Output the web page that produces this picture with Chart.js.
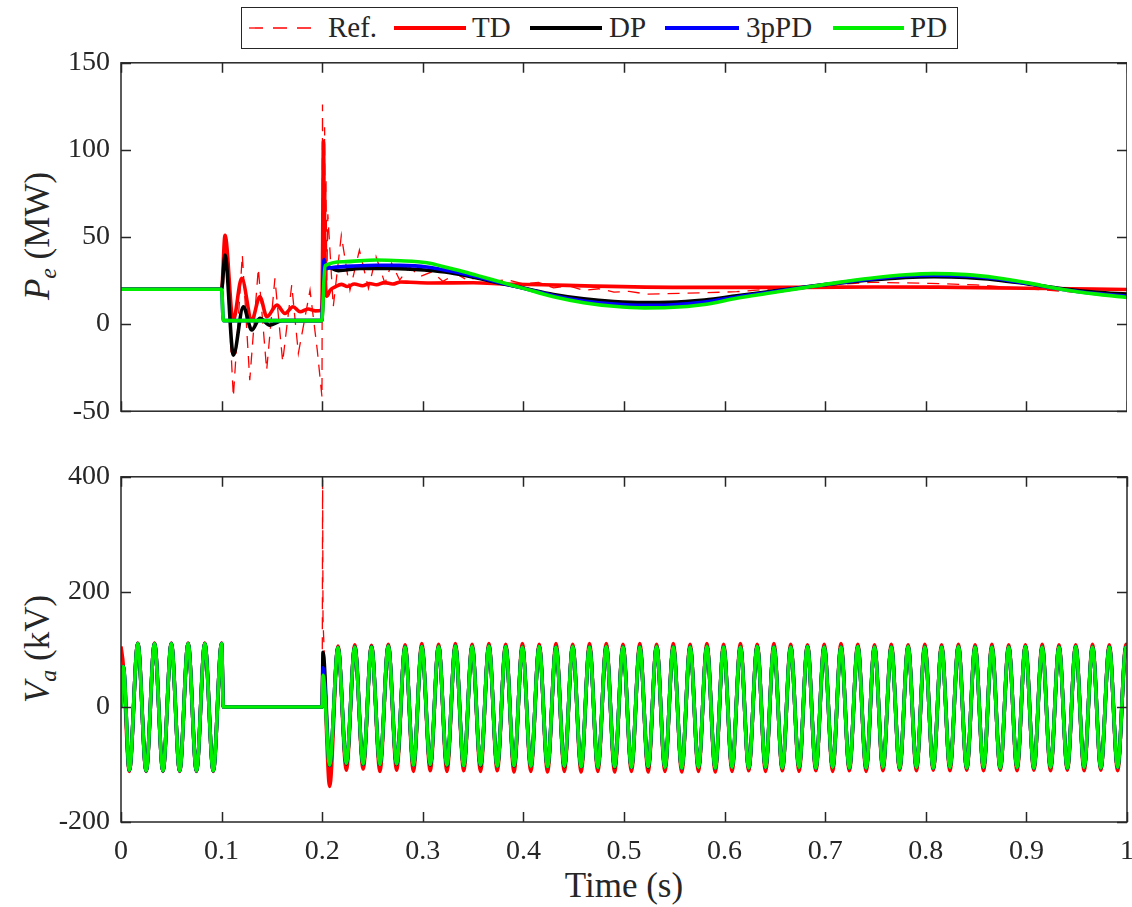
<!DOCTYPE html>
<html>
<head>
<meta charset="utf-8">
<script src="https://cdn.jsdelivr.net/npm/chart.js@4.4.0/dist/chart.umd.min.js"></script>
<style>
body { margin: 0; background: #fff; width: 1132px; height: 907px; position: relative; overflow: hidden;
       font-family: 'Liberation Serif', serif; color: #262626; }
canvas { position: absolute; left: 0; top: 0; }
.lab { position: absolute; white-space: nowrap; font-size: 35px; transform: translate(-50%, -50%); }
.ylab { transform: translate(-50%, -50%) rotate(-90deg); }
.lab sub { font-size: 0.68em; vertical-align: -0.3em; }
#legend { position: absolute; left: 241px; top: 7px; width: 717px; height: 42px; border: 1.5px solid #262626; box-sizing: border-box; }
.lt { position: absolute; top: 28px; transform: translateY(-52%); font-size: 29px; white-space: nowrap; }
#legsvg { position: absolute; left: 0; top: 0; }
</style>
</head>
<body>
<div id="legend"></div>
<svg id="legsvg" width="1132" height="55">
  <line x1="249" y1="28" x2="321" y2="28" stroke="#ff0000" stroke-width="1.3" stroke-dasharray="14 10"/>
  <line x1="394" y1="28" x2="466" y2="28" stroke="#ff0000" stroke-width="4"/>
  <line x1="530" y1="28" x2="602" y2="28" stroke="#000000" stroke-width="4"/>
  <line x1="665" y1="28" x2="739" y2="28" stroke="#0000ff" stroke-width="4"/>
  <line x1="833" y1="28" x2="904" y2="28" stroke="#00ee00" stroke-width="4"/>
</svg>
<div class="lt" style="left:328px">Ref.</div>
<div class="lt" style="left:472px">TD</div>
<div class="lt" style="left:609px">DP</div>
<div class="lt" style="left:746px">3pPD</div>
<div class="lt" style="left:910px">PD</div>

<div class="lab ylab" style="left:40px; top:236px"><i>P</i><sub><i>e</i></sub>&nbsp;(MW)</div>
<div class="lab ylab" style="left:40px; top:649px"><i>V</i><sub><i>a</i></sub>&nbsp;(kV)</div>
<div class="lab" style="left:624px; top:886px">Time (s)</div>

<script>
// tick labels
const xTickLabels = ['0', '0.1', '0.2', '0.3', '0.4', '0.5', '0.6', '0.7', '0.8', '0.9', '1'];
const peTicks = ['-50', '0', '50', '100', '150'];
const vaTicks = ['-200', '0', '200', '400'];

// ---- top panel: Pe (MW) ----
const refT = [0, 0.1, 0.1034, 0.1117, 0.1206, 0.128, 0.1365, 0.1448, 0.153, 0.1607,
  0.1697, 0.1763, 0.1879, 0.1951, 0.1998, 0.2003, 0.2008, 0.2013, 0.2018, 0.2024,
  0.203, 0.2038, 0.2046, 0.2056, 0.211, 0.219, 0.2276, 0.237, 0.246, 0.2535,
  0.2624, 0.269, 0.277, 0.287, 0.297, 0.309, 0.32, 0.333, 0.345, 0.357,
  0.37, 0.384, 0.4, 0.415, 0.43, 0.445, 0.46, 0.475, 0.49, 0.505,
  0.523, 0.556, 0.612, 0.678, 0.745, 0.804, 0.85, 0.895, 0.957, 1.0];
const refP = [20, 20, 51, -41.8, 39.7, -32.2, 32, -26.4, 26.3, -21.7,
  22.4, -16.8, 19.5, -14.9, -42, 126, 20, 100, 45, 113,
  35, 82, 25, 63, 10, 51, 19.5, 42.5, 20.5, 38.7,
  23.4, 34.9, 25.3, 32.9, 27.2, 30, 24.5, 29, 25, 27.5,
  24.5, 25.5, 23, 24, 20.8, 22, 19.3, 20.3, 18.4, 18.8,
  17.2, 17.6, 18.6, 21.5, 24, 23.4, 22.5, 20.5, 18, 17.5];

const tdT = [0, 0.1, 0.1034, 0.1115, 0.12, 0.13, 0.138, 0.145, 0.155, 0.163,
  0.171, 0.178, 0.186, 0.193, 0.1995, 0.2003, 0.2012, 0.2022, 0.2032, 0.2045,
  0.208, 0.213, 0.219, 0.225, 0.232, 0.24, 0.247, 0.254, 0.262, 0.27,
  0.278, 0.287, 0.307, 0.35, 0.383, 0.42, 0.47, 0.556, 0.62, 0.678,
  0.75, 0.812, 0.9, 1.0];
const tdP = [20, 20, 51, 2, 26.3, 2.3, 15.7, 4.2, 10.9, 6.1,
  10, 7.1, 8.7, 7.6, 8, 35, 105, 55, 25, 16,
  19.5, 21.4, 22.8, 21.6, 23, 22, 23.3, 22.6, 23.8, 23,
  24.2, 24, 23.6, 23.7, 23, 22.6, 21.8, 21.1, 21.1, 21.1,
  21.3, 21.2, 20.6, 19.9];

const dpT = [0, 0.1, 0.1034, 0.1117, 0.1216, 0.13, 0.138, 0.148, 0.16, 0.1995,
  0.2025, 0.216, 0.2376, 0.27, 0.304, 0.327, 0.347, 0.3767, 0.4, 0.43,
  0.46, 0.49, 0.52, 0.545, 0.58, 0.612, 0.645, 0.678, 0.712, 0.745,
  0.78, 0.808, 0.84, 0.87, 0.9, 0.936, 0.97, 1.0];
const dpP = [20, 20, 39.7, -17.8, 10, -3.4, 3.3, -0.6, 2, 2,
  33.5, 30.7, 32, 32, 30.9, 29.5, 27.4, 23.5, 20.7, 17,
  14.5, 13, 12.4, 12.5, 13.8, 16.2, 18.7, 21.2, 23.4, 25.3,
  26.8, 27.2, 26.8, 25.4, 23.2, 20.3, 18.3, 17.2];

const ppT = [0, 0.1, 0.1017, 0.1995, 0.2018, 0.2035, 0.21, 0.23, 0.254, 0.2773,
  0.304, 0.327, 0.347, 0.3767, 0.4, 0.43, 0.46, 0.49, 0.52, 0.545,
  0.58, 0.612, 0.645, 0.678, 0.712, 0.745, 0.78, 0.808, 0.84, 0.87,
  0.9, 0.936, 0.97, 1.0];
const ppP = [20, 20, 2, 2, 37, 32, 32.5, 33.3, 33.8, 33.7,
  32.8, 30.5, 28, 23.8, 20.6, 16.3, 13.3, 11.5, 10.8, 11,
  12.6, 15.6, 18.3, 21, 23.6, 25.8, 27.6, 28.1, 27.6, 26,
  23.4, 19.9, 17.5, 16];

const pdT = [0, 0.1, 0.1017, 0.1995, 0.2028, 0.221, 0.254, 0.2773, 0.304, 0.327,
  0.347, 0.3767, 0.4, 0.43, 0.46, 0.49, 0.52, 0.545, 0.58, 0.612,
  0.645, 0.678, 0.712, 0.745, 0.78, 0.808, 0.84, 0.87, 0.9, 0.936,
  0.97, 1.0];
const pdP = [20, 20, 2, 2, 33.5, 35.8, 36.8, 36.4, 35.2, 32,
  29.1, 24.3, 20.5, 15.7, 12.3, 10.2, 9.3, 9.5, 11.3, 14.8,
  17.8, 20.8, 23.8, 26.3, 28.3, 29, 28.4, 26.6, 23.8, 19.9,
  17.2, 15.3];

// ---- bottom panel: Va (kV), read at each crest / trough ----
const vaT = [0, 0.0023, 0.0083, 0.0167, 0.025, 0.0333, 0.0417, 0.05, 0.0583, 0.0667, 0.075, 0.0833, 0.0917, 0.1, 0.1017, 0.2, 0.2004, 0.2008,
  0.2074, 0.2157, 0.224, 0.2324, 0.2407, 0.249, 0.2574, 0.2657, 0.274, 0.2824, 0.2907, 0.299, 0.3074, 0.3157, 0.324, 0.3324,
  0.3407, 0.349, 0.3574, 0.3657, 0.374, 0.3824, 0.3907, 0.399, 0.4074, 0.4157, 0.424, 0.4324, 0.4407, 0.449, 0.4574, 0.4657,
  0.474, 0.4824, 0.4907, 0.499, 0.5074, 0.5157, 0.524, 0.5324, 0.5407, 0.549, 0.5574, 0.5657, 0.574, 0.5824, 0.5907, 0.599,
  0.6074, 0.6157, 0.624, 0.6324, 0.6407, 0.649, 0.6574, 0.6657, 0.674, 0.6824, 0.6907, 0.699, 0.7074, 0.7157, 0.724, 0.7324,
  0.7407, 0.749, 0.7574, 0.7657, 0.774, 0.7824, 0.7907, 0.799, 0.8074, 0.8157, 0.824, 0.8324, 0.8407, 0.849, 0.8574, 0.8657,
  0.874, 0.8824, 0.8907, 0.899, 0.9074, 0.9157, 0.924, 0.9324, 0.9407, 0.949, 0.9574, 0.9657, 0.974, 0.9824, 0.9907, 0.999,
  1.0];
const vaRef = [105, 72, -112, 111, -112, 111, -112, 111, -112, 111, -112, 111, -112, 111, 0, 0, 395, 150,
  -140, 106, -110, 108, -108, 107, -112, 109, -110, 108, -112, 110, -111, 109, -112, 110,
  -111, 109, -112, 110, -111, 109, -113, 110, -112, 109, -113, 110, -112, 109, -113, 110,
  -112, 110, -113, 109, -112, 110, -113, 109, -112, 110, -113, 109, -112, 110, -113, 109,
  -112, 110, -111, 109, -112, 110, -111, 109, -112, 108, -111, 109, -112, 110, -111, 109,
  -112, 108, -111, 109, -110, 108, -111, 109, -110, 108, -111, 109, -110, 108, -111, 109,
  -110, 108, -111, 108, -110, 109, -111, 108, -110, 108, -111, 109, -110, 108, -111, 109,
  108];
const vaTD = [105, 72, -112, 111, -112, 111, -112, 111, -112, 111, -112, 111, -112, 111, 0, 0, 40, 75,
  -138, 106, -110, 108, -108, 107, -112, 109, -110, 108, -112, 110, -111, 109, -112, 110,
  -111, 109, -112, 110, -111, 109, -113, 110, -112, 109, -113, 110, -112, 109, -113, 110,
  -112, 110, -113, 109, -112, 110, -113, 109, -112, 110, -113, 109, -112, 110, -113, 109,
  -112, 110, -111, 109, -112, 110, -111, 109, -112, 108, -111, 109, -112, 110, -111, 109,
  -112, 108, -111, 109, -110, 108, -111, 109, -110, 108, -111, 109, -110, 108, -111, 109,
  -110, 108, -111, 108, -110, 109, -111, 108, -110, 108, -111, 109, -110, 108, -111, 109,
  108];
const vaDP = [0, 70, -110, 110, -111, 110, -111, 110, -111, 110, -111, 110, -111, 110, 0, 0, 50, 95,
  -102, 103, -99, 104, -100, 105, -100, 106, -100, 104, -101, 105, -101, 105, -102, 106,
  -102, 105, -102, 106, -103, 105, -103, 104, -103, 105, -104, 104, -104, 105, -104, 104,
  -105, 105, -105, 104, -105, 104, -105, 105, -105, 104, -106, 104, -105, 105, -106, 104,
  -105, 104, -106, 105, -105, 104, -106, 104, -105, 105, -106, 104, -105, 104, -106, 105,
  -106, 104, -105, 104, -106, 105, -105, 104, -106, 104, -105, 105, -106, 104, -105, 104,
  -106, 104, -105, 105, -106, 104, -105, 104, -106, 105, -105, 104, -106, 104, -105, 104,
  103];
const vaPP = [0, 70, -110, 110, -111, 110, -111, 110, -111, 110, -111, 110, -111, 110, 0, 0, 35, 68,
  -101, 103, -98, 104, -99, 104, -100, 106, -99, 104, -101, 105, -100, 105, -101, 106,
  -102, 105, -101, 106, -103, 105, -102, 104, -103, 105, -104, 104, -103, 105, -104, 104,
  -105, 105, -104, 104, -105, 104, -104, 105, -105, 104, -106, 104, -105, 105, -106, 104,
  -105, 104, -106, 105, -105, 104, -106, 104, -105, 105, -106, 104, -105, 104, -106, 105,
  -106, 104, -105, 104, -106, 105, -105, 104, -106, 104, -105, 105, -106, 104, -105, 104,
  -106, 104, -105, 105, -106, 104, -105, 104, -106, 105, -105, 104, -106, 104, -105, 104,
  103];
const vaPD = [0, 70, -110, 110, -111, 110, -111, 110, -111, 110, -111, 110, -111, 110, 0, 0, 28, 55,
  -101, 103, -98, 104, -99, 104, -100, 106, -99, 104, -101, 105, -100, 105, -101, 106,
  -102, 105, -101, 106, -103, 105, -102, 104, -103, 105, -104, 104, -103, 105, -104, 104,
  -105, 105, -104, 104, -105, 104, -104, 105, -105, 104, -106, 104, -105, 105, -106, 104,
  -105, 104, -106, 105, -105, 104, -106, 104, -105, 105, -106, 104, -105, 104, -106, 105,
  -106, 104, -105, 104, -106, 105, -105, 104, -106, 104, -105, 105, -106, 104, -105, 104,
  -106, 104, -105, 105, -106, 104, -105, 104, -106, 105, -105, 104, -106, 104, -105, 104,
  103];

const RED = '#ff0000', BLACK = '#000000', BLUE = '#0000ff', GREEN = '#00ee00';

function pts(xs, ys) {
    return xs.map((x, i) => ({ x: x, y: ys[i] }));
}

function line(label, xs, ys, color, dashed) {
    return {
        label: label,
        data: pts(xs, ys),
        borderColor: color,
        borderWidth: dashed ? 1.3 : 3.6,
        borderDash: dashed ? [12, 8] : [],
        cubicInterpolationMode: dashed ? 'default' : 'monotone',
        tension: 0,
        pointRadius: 0,
        fill: false
    };
}

// MATLAB style box with inward ticks on all four sides
const boxTicks = {
    id: 'boxTicks',
    afterDatasetsDraw(chart) {
        const { ctx, chartArea: a, scales: { x, y } } = chart;
        ctx.save();
        ctx.strokeStyle = '#262626';
        ctx.lineWidth = 1.5;
        ctx.strokeRect(a.left, a.top, a.right - a.left, a.bottom - a.top);
        ctx.beginPath();
        x.ticks.forEach(t => {
            const px = Math.round(x.getPixelForValue(t.value)) + 0.5;
            ctx.moveTo(px, a.bottom); ctx.lineTo(px, a.bottom - 10);
            ctx.moveTo(px, a.top); ctx.lineTo(px, a.top + 10);
        });
        y.ticks.forEach(t => {
            const py = Math.round(y.getPixelForValue(t.value)) + 0.5;
            ctx.moveTo(a.left, py); ctx.lineTo(a.left + 10, py);
            ctx.moveTo(a.right, py); ctx.lineTo(a.right - 10, py);
        });
        ctx.stroke();
        ctx.restore();
    }
};

function chartConfig(sets, yMin, yMax, yStep, yLabels, showX) {
    const font = { family: 'Liberation Serif', size: 28 };
    return {
        type: 'line',
        data: { datasets: sets() },
        options: {
            responsive: false,
            maintainAspectRatio: false,
            animation: false,
            devicePixelRatio: 1,
            layout: { padding: 0, autoPadding: false },
            plugins: { legend: { display: false }, tooltip: { enabled: false } },
            scales: {
                x: {
                    type: 'linear', min: 0, max: 1,
                    grid: { display: false, drawTicks: false },
                    border: { display: false },
                    ticks: {
                        display: showX, stepSize: 0.1, padding: 13, color: '#262626', font: font,
                        maxRotation: 0, autoSkip: false,
                        callback: (v, i) => xTickLabels[i]
                    },
                    afterFit: s => { s.height = showX ? 50 : 0; }
                },
                y: {
                    type: 'linear', min: yMin, max: yMax,
                    grid: { display: false, drawTicks: false },
                    border: { display: false },
                    ticks: {
                        stepSize: yStep, padding: 11, color: '#262626', font: font,
                        callback: (v, i) => yLabels[i]
                    },
                    afterFit: s => { s.width = 121; }
                }
            }
        },
        plugins: [boxTicks]
    };
}

// build once to learn the margins Chart.js keeps round the plot,
// then rebuild with a canvas sized and placed so the plot box lands on `box`
function makeChart(box, sets, yMin, yMax, yStep, yLabels, showX) {
    const build = (w, h) => {
        const cv = document.createElement('canvas');
        cv.width = w;
        cv.height = h;
        document.body.appendChild(cv);
        return new Chart(cv, chartConfig(sets, yMin, yMax, yStep, yLabels, showX));
    };
    const probe = build(1132, box.bottom - box.top + 100);
    const a = probe.chartArea;
    const m = { l: a.left, t: a.top, r: probe.width - a.right, b: probe.height - a.bottom };
    const oldCanvas = probe.canvas;
    probe.destroy();
    oldCanvas.remove();

    const chart = build(Math.round(m.l + box.right - box.left + m.r), Math.round(m.t + box.bottom - box.top + m.b));
    chart.canvas.style.left = (box.left - m.l) + 'px';
    chart.canvas.style.top = (box.top - m.t) + 'px';
    return chart;
}

// PD first so that it is painted on top, Ref. last (underneath)
makeChart({ left: 121, right: 1127, top: 63, bottom: 411 }, () => [
    line('PD', pdT, pdP, GREEN),
    line('3pPD', ppT, ppP, BLUE),
    line('DP', dpT, dpP, BLACK),
    line('TD', tdT, tdP, RED),
    line('Ref.', refT, refP, RED, true)
], -50, 150, 50, peTicks, false);

makeChart({ left: 121, right: 1127, top: 477, bottom: 822 }, () => [
    line('PD', vaT, vaPD, GREEN),
    line('3pPD', vaT, vaPP, BLUE),
    line('DP', vaT, vaDP, BLACK),
    line('TD', vaT, vaTD, RED),
    line('Ref.', vaT, vaRef, RED, true)
], -200, 400, 200, vaTicks, true);
</script>
</body>
</html>
